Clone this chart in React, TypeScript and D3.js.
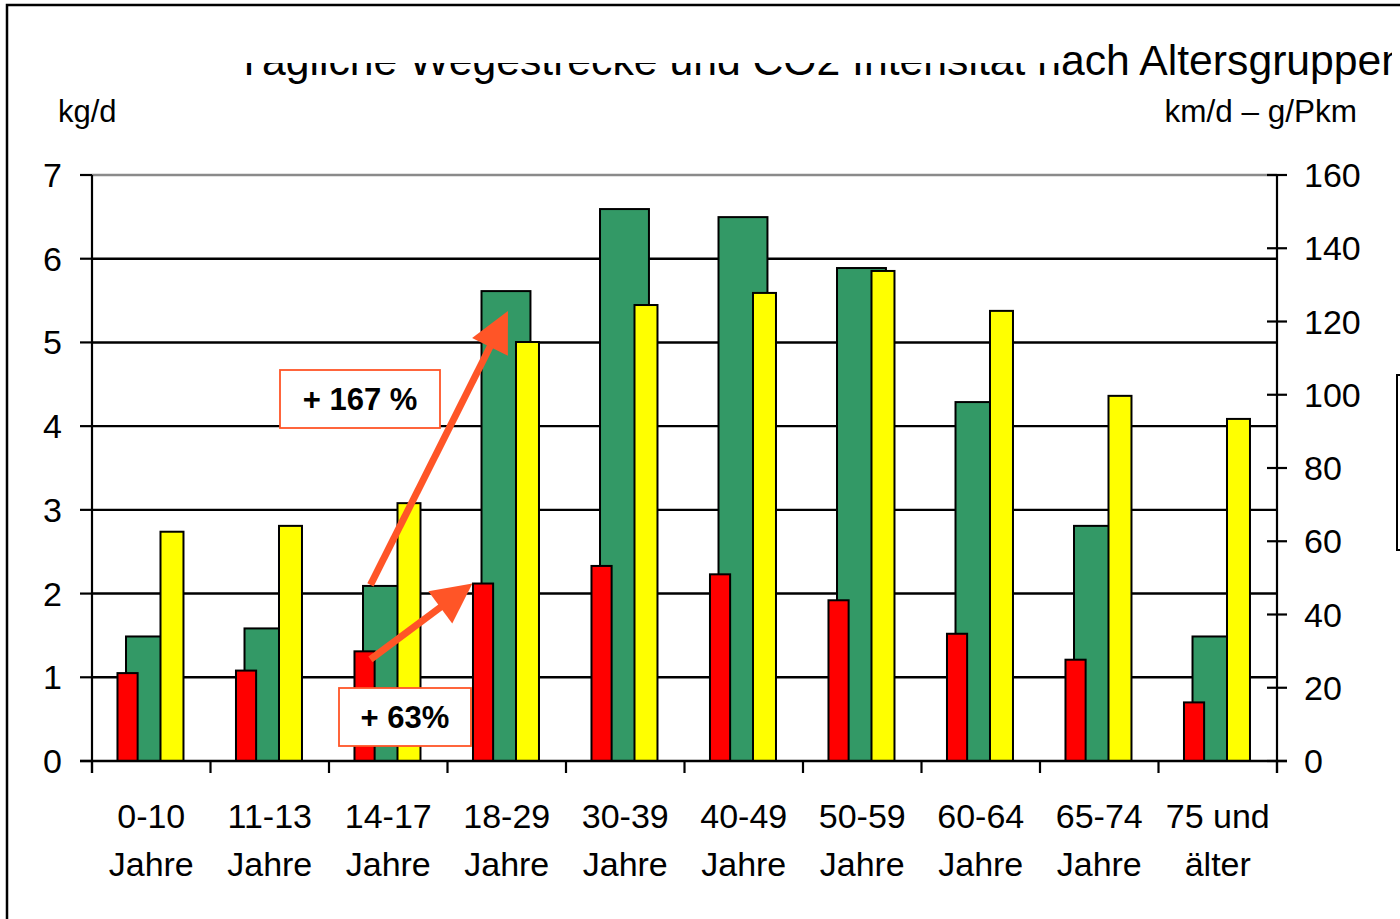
import { useEffect, useRef } from "react";
import { select, scaleBand, scaleLinear, range } from "d3";

// categories and series
const categories = [
  "0-10|Jahre",
  "11-13|Jahre",
  "14-17|Jahre",
  "18-29|Jahre",
  "30-39|Jahre",
  "40-49|Jahre",
  "50-59|Jahre",
  "60-64|Jahre",
  "65-74|Jahre",
  "75 und|älter",
];
// CO2 per day, left axis (kg/d)
const co2PerDay = [1.05, 1.08, 1.31, 2.12, 2.33, 2.23, 1.92, 1.52, 1.21, 0.7];
// distance per day, right axis (km/d)
const distance = [34, 36.2, 47.8, 128.3, 150.7, 148.5, 134.6, 98, 64.2, 34];
// CO2 intensity, right axis (g/Pkm)
const intensity = [62.6, 64.2, 70.4, 114.4, 124.5, 127.8, 133.8, 122.9, 99.7, 93.4];

const leftTicks = [0, 1, 2, 3, 4, 5, 6, 7];
const rightTicks = [0, 20, 40, 60, 80, 100, 120, 140, 160];

const title = "Tägliche Wegestrecke und CO2 Intensität nach Altersgruppen";

const FONT = "'Liberation Sans', Arial, sans-serif";
const ARROW = "#ff5527";

export default function App() {
  const svgRef = useRef<SVGSVGElement>(null);

  useEffect(() => {
    const svg = select(svgRef.current);
    svg.selectAll("*").remove();

    const W = 1400;
    const H = 919;
    const left = 92;
    const right = 1277;
    const top = 175;
    const bottom = 761;

    const x = scaleBand<string>().domain(categories).range([left, right]);
    const yL = scaleLinear().domain([0, 7]).range([bottom, top]);
    const yR = scaleLinear().domain([0, 160]).range([bottom, top]);
    const bw = x.bandwidth();

    svg.attr("width", W).attr("height", H).style("font-family", FONT);

    svg
      .append("rect")
      .attr("width", W)
      .attr("height", H)
      .attr("fill", "#fff");

    // --- Title (partly hidden by a white box, clipped at the right) ---
    const defs = svg.append("defs");
    defs
      .append("clipPath")
      .attr("id", "title-clip")
      .append("rect")
      .attr("x", 0)
      .attr("y", 0)
      .attr("width", 1392)
      .attr("height", 100);

    svg
      .append("text")
      .attr("clip-path", "url(#title-clip)")
      .attr("x", 236)
      .attr("y", 75)
      .attr("font-size", 42.7)
      .attr("fill", "#000")
      .text(title);

    svg
      .append("rect")
      .attr("x", 200)
      .attr("y", 10)
      .attr("width", 859)
      .attr("height", 53)
      .attr("fill", "#fff");

    // --- Axis unit labels ---
    svg
      .append("text")
      .attr("x", 58)
      .attr("y", 122)
      .attr("font-size", 31)
      .text("kg/d");
    svg
      .append("text")
      .attr("x", 1357)
      .attr("y", 122)
      .attr("font-size", 31.5)
      .attr("text-anchor", "end")
      .text("km/d – g/Pkm");

    // --- Gridlines ---
    svg
      .append("g")
      .selectAll("line")
      .data(leftTicks.filter((d) => d > 0))
      .join("line")
      .attr("x1", left)
      .attr("x2", right)
      .attr("y1", (d) => yL(d))
      .attr("y2", (d) => yL(d))
      .attr("stroke", (d) => (d === 7 ? "#8a8a8a" : "#000"))
      .attr("stroke-width", 2.4);

    // --- Bars ---
    const drawBars = (
      vals: number[],
      scale: (v: number) => number,
      off: number,
      wid: number,
      fill: string,
    ) => {
      svg
        .append("g")
        .selectAll("rect")
        .data(vals)
        .join("rect")
        .attr("x", (_, i) => (x(categories[i]) ?? 0) + bw * off)
        .attr("y", (d) => scale(d))
        .attr("width", bw * wid)
        .attr("height", (d) => bottom - scale(d))
        .attr("fill", fill)
        .attr("stroke", "#000")
        .attr("stroke-width", 2);
    };
    drawBars(distance, yR, 0.287, 0.413, "#339966");
    drawBars(intensity, yR, 0.578, 0.194, "#ffff00");
    drawBars(co2PerDay, yL, 0.215, 0.17, "#ff0000");

    // --- Axes ---
    svg
      .append("line")
      .attr("x1", left)
      .attr("x2", left)
      .attr("y1", top)
      .attr("y2", bottom + 12)
      .attr("stroke", "#000")
      .attr("stroke-width", 2.2);
    svg
      .append("line")
      .attr("x1", right)
      .attr("x2", right)
      .attr("y1", top)
      .attr("y2", bottom + 12)
      .attr("stroke", "#000")
      .attr("stroke-width", 2.2);
    svg
      .append("line")
      .attr("x1", left - 12)
      .attr("x2", right + 10)
      .attr("y1", bottom)
      .attr("y2", bottom)
      .attr("stroke", "#000")
      .attr("stroke-width", 2.6);

    // left ticks + labels
    const lg = svg.append("g");
    lg.selectAll("line")
      .data(leftTicks)
      .join("line")
      .attr("x1", left - 12)
      .attr("x2", left)
      .attr("y1", (d) => yL(d))
      .attr("y2", (d) => yL(d))
      .attr("stroke", "#000")
      .attr("stroke-width", 2.2);
    lg.selectAll("text")
      .data(leftTicks)
      .join("text")
      .attr("x", 62)
      .attr("y", (d) => yL(d) + 12)
      .attr("font-size", 34)
      .attr("text-anchor", "end")
      .text((d) => d);

    // right ticks + labels
    const rg = svg.append("g");
    rg.selectAll("line")
      .data(rightTicks)
      .join("line")
      .attr("x1", right - 10)
      .attr("x2", right + 10)
      .attr("y1", (d) => yR(d))
      .attr("y2", (d) => yR(d))
      .attr("stroke", "#000")
      .attr("stroke-width", 2.2);
    rg.selectAll("text")
      .data(rightTicks)
      .join("text")
      .attr("x", 1304)
      .attr("y", (d) => yR(d) + 12)
      .attr("font-size", 34)
      .text((d) => d);

    // category ticks + labels
    const xg = svg.append("g");
    xg.selectAll("line")
      .data(range(categories.length + 1))
      .join("line")
      .attr("x1", (i) => left + i * bw)
      .attr("x2", (i) => left + i * bw)
      .attr("y1", bottom)
      .attr("y2", bottom + 12)
      .attr("stroke", "#000")
      .attr("stroke-width", 2.2);
    const labels = xg
      .selectAll("text")
      .data(categories)
      .join("text")
      .attr("font-size", 34)
      .attr("text-anchor", "middle");
    labels
      .selectAll("tspan")
      .data((d) => d.split("|").map((t, j) => ({ t, j, c: d })))
      .join("tspan")
      .attr("x", (d) => (x(d.c) ?? 0) + bw / 2)
      .attr("y", (d) => 828 + d.j * 48)
      .text((d) => d.t);

    // --- Annotations ---
    const arrow = (x1: number, y1: number, x2: number, y2: number) => {
      const dx = x2 - x1;
      const dy = y2 - y1;
      const len = Math.hypot(dx, dy);
      const ux = dx / len;
      const uy = dy / len;
      const headL = 40;
      const headW = 20;
      const bx = x2 - ux * headL;
      const by = y2 - uy * headL;
      svg
        .append("line")
        .attr("x1", x1)
        .attr("y1", y1)
        .attr("x2", bx + ux * 4)
        .attr("y2", by + uy * 4)
        .attr("stroke", ARROW)
        .attr("stroke-width", 7);
      svg
        .append("polygon")
        .attr(
          "points",
          [
            [x2, y2],
            [bx - uy * headW, by + ux * headW],
            [bx + uy * headW, by - ux * headW],
          ]
            .map((p) => p.join(","))
            .join(" "),
        )
        .attr("fill", ARROW);
    };

    const g2 = x(categories[2]) ?? 0;
    const g3 = x(categories[3]) ?? 0;
    arrow(g2 + bw * 0.35, yR(distance[2]) - 1, g3 + bw * 0.51, yR(distance[3]) + 20);
    arrow(g2 + bw * 0.35, yL(co2PerDay[2]) + 8, g3 + bw * 0.21, yL(co2PerDay[3]));

    const box = (cx: number, cy: number, w: number, h: number, label: string) => {
      svg
        .append("rect")
        .attr("x", cx - w / 2)
        .attr("y", cy - h / 2)
        .attr("width", w)
        .attr("height", h)
        .attr("fill", "#fff")
        .attr("stroke", ARROW)
        .attr("stroke-width", 1.8);
      svg
        .append("text")
        .attr("x", cx)
        .attr("y", cy + 11)
        .attr("font-size", 31)
        .attr("font-weight", "bold")
        .attr("text-anchor", "middle")
        .text(label);
    };
    box(360, 399, 160, 58, "+ 167 %");
    box(405, 717, 132, 58, "+ 63%");

    // --- Legend box edge (the legend itself lies outside the picture) ---
    svg
      .append("rect")
      .attr("x", 1397)
      .attr("y", 375)
      .attr("width", 260)
      .attr("height", 175)
      .attr("fill", "#fff")
      .attr("stroke", "#000")
      .attr("stroke-width", 2);

    // --- Outer frame ---
    svg
      .append("rect")
      .attr("x", 7)
      .attr("y", 5)
      .attr("width", 1500)
      .attr("height", 1000)
      .attr("fill", "none")
      .attr("stroke", "#000")
      .attr("stroke-width", 2.5);
  }, []);

  return (
    <div style={{ position: "absolute", left: 0, top: 0 }}>
      <svg ref={svgRef} style={{ display: "block" }} />
    </div>
  );
}
